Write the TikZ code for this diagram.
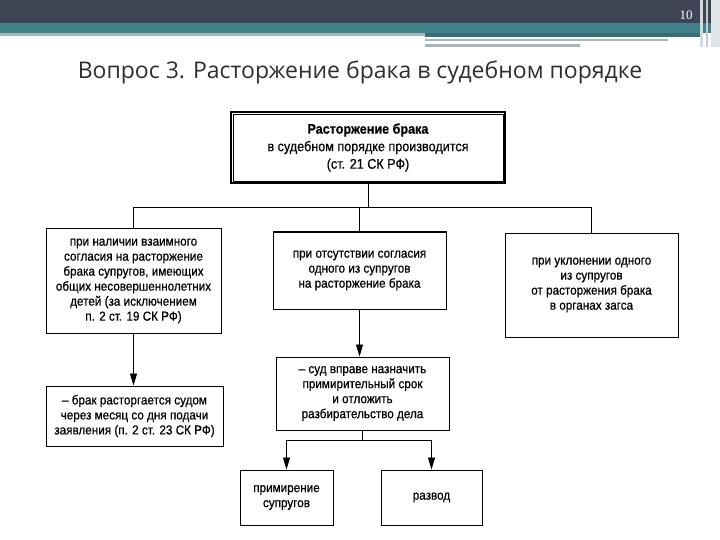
\documentclass[tikz,border=0pt]{standalone}
\usepackage{fontspec}
\setmainfont{Liberation Sans}
\newfontfamily\boxfont[FakeStretch=0.9, FakeBold=0.6]{Liberation Sans}
\newfontfamily\titlefont{Open Sans}
\newfontfamily\numfont{Liberation Serif}
\usepackage{tikz}
\usetikzlibrary{arrows.meta, positioning, calc}
\definecolor{bardark}{RGB}{62,68,84}
\definecolor{barteal}{RGB}{65,129,137}
\definecolor{bargray}{RGB}{164,184,188}
\definecolor{barlight}{RGB}{210,218,221}
\definecolor{titlegray}{RGB}{45,45,50}
\tikzset{
  box/.style={rectangle, draw=black, line width=1pt, align=center,
    inner sep=0pt, font=\boxfont\fontsize{13}{15}\selectfont},
  mainbox/.style={box, line width=2.6pt, font=\boxfont\fontsize{14}{17.5}\selectfont},
  line/.style={line width=0.9pt, color=black},
  arrow/.style={-{Triangle[length=12pt, width=7pt]}, line width=0.9pt, color=black}
}
\begin{document}
\begin{tikzpicture}[x=1pt, y=-1pt]
  \useasboundingbox (0,0) rectangle (720,540);
  % Slide header bars
  \fill[bardark] (0,0) rectangle (720,23);
  \fill[barteal] (0,23) rectangle (720,33);
  \fill[bargray] (0,33) rectangle (425,36);
  \fill[barteal!85!black] (425,33) rectangle (700,37);
  \fill[bargray] (425,39) rectangle (668,41);
  \fill[bargray] (425,44) rectangle (580,47);
  \fill[barlight] (700,0) rectangle (703,47);
  \fill[bargray!70] (706,0) rectangle (708,47);
  \fill[barlight!70] (711,0) rectangle (720,47);
  \node[text=white, font=\numfont\fontsize{13}{15}\selectfont] (pagenum) at (686,15) {10};

  % Slide title
  \node[text=titlegray, font=\titlefont\fontsize{23}{26}\selectfont] (title) at (360,72)
    {Вопрос 3. Расторжение брака в судебном порядке};

  % Boxes
  \node[mainbox, minimum width=274pt, minimum height=71pt] (main) at (368,147.5)
    {\textbf{Расторжение брака}\\в судебном порядке производится\\(ст. 21 СК РФ)};
  \draw[line width=0.5pt] ($(main.south west)+(3.5,-3.5)$) rectangle ($(main.north east)+(-3.5,3.5)$);

  \node[box, minimum width=175pt, minimum height=104pt] (mutual) at (133.5,281)
    {при наличии взаимного\\согласия на расторжение\\брака супругов, имеющих\\общих несовершеннолетних\\детей (за исключением\\п. 2 ст. 19 СК РФ)};
  \node[box, minimum width=173pt, minimum height=77pt] (nocons) at (359.5,270.5)
    {при отсутствии согласия\\одного из супругов\\на расторжение брака};
  \node[box, minimum width=173pt, minimum height=104pt] (evade) at (591.5,285)
    {при уклонении одного\\из супругов\\от расторжения брака\\в органах загса};

  \node[box, minimum width=177pt, minimum height=60pt] (month) at (134.5,416)
    {– брак расторгается судом\\через месяц со дня подачи\\заявления (п. 2 ст. 23 СК РФ)};
  \node[box, minimum width=173pt, minimum height=73pt] (court) at (362.5,393.5)
    {– суд вправе назначить\\примирительный срок\\и отложить\\разбирательство дела};

  \node[box, minimum width=93pt, minimum height=55pt] (recon) at (286.5,497.5)
    {примирение\\супругов};
  \node[box, minimum width=101pt, minimum height=55pt] (divorce) at (431.5,497.5)
    {развод};

  % Connectors
  \coordinate (hy) at (0,207);
  \coordinate (hy2) at (0,440);
  \draw[line] (main.south) -- (main.south |- hy);
  \draw[line] (mutual.north) |- (evade.north |- hy) -- (evade.north);
  \draw[line] (nocons.north) -- (nocons.north |- hy);

  \draw[arrow] (mutual.south) -- (mutual.south |- month.north);
  \draw[arrow] (nocons.south) -- (nocons.south |- court.north);

  \draw[line] (court.south) -- (court.south |- hy2);
  \draw[arrow] (court.south |- hy2) -| (recon.north);
  \draw[arrow] (court.south |- hy2) -| (divorce.north);
\end{tikzpicture}
\end{document}
